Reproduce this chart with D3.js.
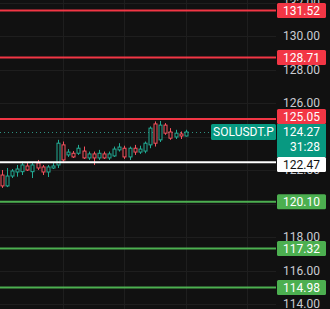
<!DOCTYPE html>
<html>
<head>
<meta charset="utf-8">
<script src="https://cdn.jsdelivr.net/npm/d3@7/dist/d3.min.js"></script>
<style>
  html, body { margin: 0; padding: 0; background: #111111; }
  svg { display: block; }
  text { font-family: Roboto, "Liberation Sans", sans-serif; }
</style>
</head>
<body>
<div id="chart"></div>
<script>
// candles (15m SOLUSDT.P)
var opens  = [121.70,121.05,121.64,121.88,121.90,122.24,121.90,122.42,122.18,121.88,122.12,122.30,123.50,122.90,123.00,123.00,123.13,122.72,122.96,122.72,122.96,122.72,122.84,123.20,123.30,122.78,123.30,123.07,123.13,123.50,124.75,123.80,124.68,124.27,123.97,124.15,124.03];
var highs  = [122.00,122.12,122.06,122.30,122.50,122.42,122.42,122.60,122.30,122.30,122.42,123.80,123.70,123.25,123.13,123.50,123.40,123.10,123.10,123.20,123.10,123.10,123.40,123.60,123.45,123.40,123.50,123.45,123.70,124.60,124.90,124.93,124.80,124.50,124.40,124.30,124.40];
var lows   = [120.93,120.98,121.52,121.60,121.70,121.94,121.52,122.00,121.70,121.58,122.06,122.12,122.50,122.78,122.72,122.90,122.66,122.60,122.30,122.60,122.66,122.60,122.78,123.10,122.66,122.60,122.90,122.96,123.00,123.30,123.40,123.67,124.10,123.80,123.85,123.85,124.00];
var closes = [121.05,121.64,121.94,122.06,122.30,122.00,122.30,122.12,121.88,122.18,122.24,123.60,122.60,123.07,122.78,123.30,122.72,122.96,122.72,123.00,122.72,122.96,123.25,123.37,122.78,123.30,123.07,123.25,123.60,124.50,123.60,124.68,124.20,123.90,124.20,124.03,124.27];

// drawn levels
var resistances = [131.52, 128.71, 125.05];
var supports    = [120.10, 117.32, 114.98];
var pivot       = 122.47;
var lastPrice   = 124.27;
var countdown   = "31:28";
var symbol      = "SOLUSDT.P";
var priceTicks  = [132, 130, 128, 126, 124, 122, 120, 118, 116, 114];
var timeGrid    = [12, 24, 36, 48];

var W = 330, H = 309, plotW = 276;
var RED = "#f23645", GREEN = "#4caf50", UP = "#22ab94", DOWN = "#f7525f", TEAL = "#089981";

var svg = d3.select("#chart").append("svg")
  .attr("width", W).attr("height", H);

svg.append("rect").attr("width", W).attr("height", H).attr("fill", "#111111");

var x = d3.scaleLinear().domain([-0.35, 53.65]).range([0, plotW]);
var y = d3.scaleLinear().domain([114, 130]).range([304, 36]);

// grid
svg.append("g").selectAll("line").data(priceTicks).enter().append("line")
  .attr("x1", 0).attr("x2", plotW)
  .attr("y1", function(d){ return Math.round(y(d)) + 0.5; })
  .attr("y2", function(d){ return Math.round(y(d)) + 0.5; })
  .attr("stroke", "#1e1e1e");
svg.append("g").selectAll("line").data(timeGrid).enter().append("line")
  .attr("x1", function(d){ return Math.round(x(d)) + 0.5; })
  .attr("x2", function(d){ return Math.round(x(d)) + 0.5; })
  .attr("y1", 0).attr("y2", H)
  .attr("stroke", "#1e1e1e");

// level list + label box placement (boxes pushed off the last-price box)
var levels = resistances.map(function(v){ return {v: v, c: RED, t: "#fff"}; })
  .concat(supports.map(function(v){ return {v: v, c: GREEN, t: "#fff"}; }))
  .concat([{v: pivot, c: "#ffffff", t: "#111"}]);

var boxH = 15;
var pTop = y(lastPrice) - 8, pBot = pTop + 33;
levels.forEach(function(d){
  var top = y(d.v) - boxH / 2;
  if (top + boxH > pTop && top < pBot) {
    top = y(d.v) < y(lastPrice) ? pTop - boxH : pBot;
  }
  d.top = Math.max(2, top);
});
var boxes = levels.map(function(d){ return [d.top, d.top + boxH]; }).concat([[pTop, pBot]]);

// price axis ticks (skip the ones a label box hides)
var shownTicks = priceTicks.filter(function(t){
  var ty = y(t);
  return !boxes.some(function(b){ return ty > b[0] + 4 && ty < b[1] - 4; });
});
svg.append("g").selectAll("text").data(shownTicks).enter().append("text")
  .attr("x", 320).attr("y", function(d){ return y(d); })
  .attr("dy", "0.35em").attr("text-anchor", "end")
  .attr("font-size", 12).attr("fill", "#c9cbd1")
  .text(function(d){ return d3.format(".2f")(d); });

// last price dotted line
svg.append("line")
  .attr("x1", 0).attr("x2", 211)
  .attr("y1", Math.round(y(lastPrice)) + 0.5).attr("y2", Math.round(y(lastPrice)) + 0.5)
  .attr("stroke", "#2f8f80").attr("stroke-dasharray", "1,3");

// candles
var candles = svg.append("g").selectAll("g").data(opens).enter().append("g");
candles.append("line")
  .attr("x1", function(d, i){ return Math.round(x(i)) + 0.5; })
  .attr("x2", function(d, i){ return Math.round(x(i)) + 0.5; })
  .attr("y1", function(d, i){ return y(highs[i]); })
  .attr("y2", function(d, i){ return y(lows[i]); })
  .attr("stroke", function(d, i){ return closes[i] >= d ? UP : DOWN; });
candles.append("rect")
  .attr("x", function(d, i){ return Math.round(x(i)) - 1; })
  .attr("width", 3)
  .attr("y", function(d, i){ return y(Math.max(d, closes[i])); })
  .attr("height", function(d, i){ return Math.max(1, Math.abs(y(d) - y(closes[i]))); })
  .attr("fill", "#111111")
  .attr("stroke", function(d, i){ return closes[i] >= d ? UP : DOWN; })
  .attr("stroke-width", 1);

// level lines
svg.append("g").selectAll("line").data(levels).enter().append("line")
  .attr("x1", 0).attr("x2", plotW)
  .attr("y1", function(d){ return y(d.v); })
  .attr("y2", function(d){ return y(d.v); })
  .attr("stroke", function(d){ return d.c; })
  .attr("stroke-width", 2);

var lab = svg.append("g").selectAll("g").data(levels).enter().append("g");
lab.append("rect")
  .attr("x", 277).attr("width", 49)
  .attr("y", function(d){ return d.top; }).attr("height", boxH)
  .attr("rx", 1.5)
  .attr("fill", function(d){ return d.c; });
lab.append("text")
  .attr("x", 320).attr("y", function(d){ return d.top + boxH / 2; })
  .attr("dy", "0.36em").attr("text-anchor", "end")
  .attr("font-size", 12).attr("fill", function(d){ return d.t; })
  .text(function(d){ return d3.format(".2f")(d.v); });

// current price box (price + countdown)
svg.append("rect").attr("x", 277).attr("width", 49)
  .attr("y", pTop).attr("height", pBot - pTop).attr("fill", TEAL);
svg.append("text").attr("x", 320).attr("y", y(lastPrice)).attr("dy", "0.36em")
  .attr("text-anchor", "end").attr("font-size", 12).attr("fill", "#fff")
  .text(d3.format(".2f")(lastPrice));
svg.append("text").attr("x", 320).attr("y", y(lastPrice) + 15).attr("dy", "0.36em")
  .attr("text-anchor", "end").attr("font-size", 12).attr("fill", "#fff")
  .text(countdown);

// symbol tag
svg.append("rect").attr("x", 211).attr("width", 65)
  .attr("y", y(lastPrice) - 8).attr("height", 16).attr("rx", 1.5).attr("fill", TEAL);
svg.append("text").attr("x", 243.5).attr("y", y(lastPrice)).attr("dy", "0.36em")
  .attr("text-anchor", "middle").attr("font-size", 12).attr("fill", "#fff")
  .text(symbol);
</script>
</body>
</html>
